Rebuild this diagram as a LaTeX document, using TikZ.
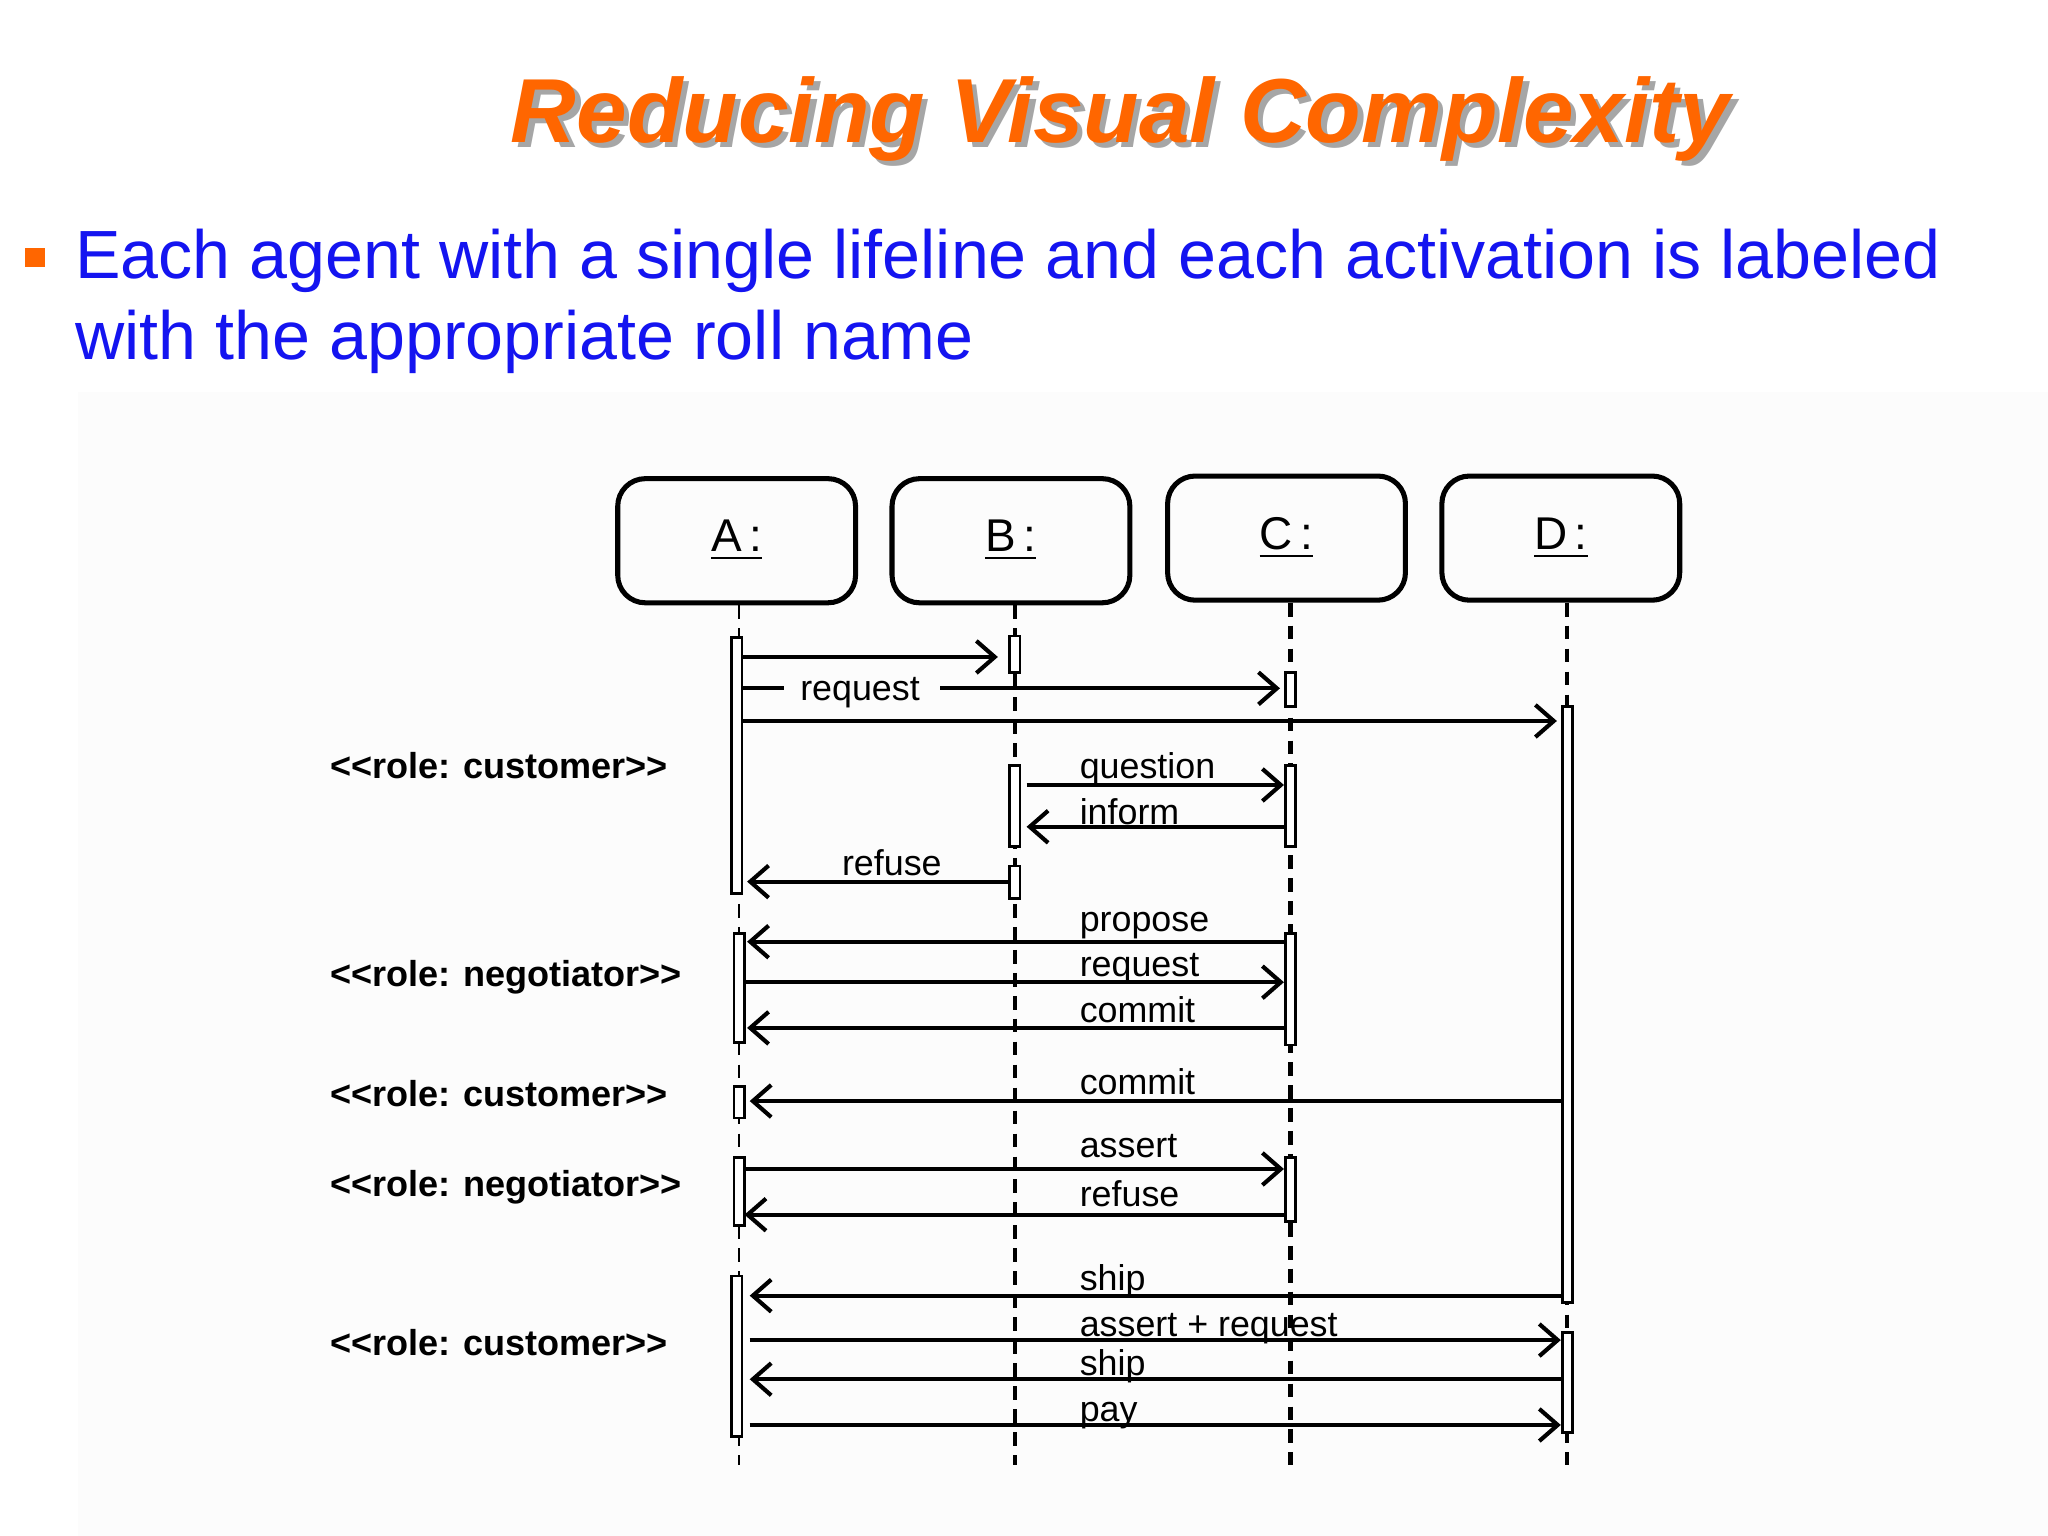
\documentclass[tikz,border=0pt]{standalone}
\usepackage{fontspec}
\setmainfont{Liberation Sans}
\usetikzlibrary{arrows.meta}
\definecolor{ttl}{RGB}{255,102,0}
\definecolor{bl}{RGB}{20,20,240}
\begin{document}
\begin{tikzpicture}[x=0.01cm,y=-0.01cm,
  agent/.style={draw,line width=1.1pt,rounded corners=6pt,inner sep=0},
  act/.style={draw,fill=white,line width=0.6pt},
  msg/.style={line width=0.9pt,-{Straight Barb[length=4pt,width=7pt,line width=0.9pt]}},
  lbl/.style={font=\fontsize{7.8pt}{8pt}\selectfont,anchor=base west,inner sep=0},
  role/.style={font=\bfseries\fontsize{7.85pt}{8pt}\selectfont,anchor=base west,inner sep=0},
  life/.style={line width=0.9pt,dash pattern=on 3pt off 2pt}]
\useasboundingbox (0,0) rectangle (1568,1176);
\fill[black!1] (60,300) rectangle (1568,1176);
% title
\node[text=black!35,font=\bfseries\itshape\fontsize{19.8pt}{22pt}\selectfont] at (862,95) {Reducing Visual Complexity};
\node (title)[text=ttl,font=\bfseries\itshape\fontsize{19.8pt}{22pt}\selectfont] at (858,91) {Reducing Visual Complexity};
\node (bul)[fill=ttl,inner sep=0,minimum width=0.15cm,minimum height=0.15cm] at (27,197) {};
\node (txt)[anchor=north west,text=bl,align=left,inner sep=0,font=\fontsize{14.85pt}{17.6pt}\selectfont] at (57,175)
 {Each agent with a single lifeline and each activation is labeled\\with the appropriate roll name};
% agents
\foreach \n/\x/\y in {A/564/414,B/774/414,C/985/412,D/1195/412}{
  \node[agent,minimum width=1.82cm,minimum height=0.95cm] (\n) at (\x,\y) {\raisebox{-0.5ex}{\fontsize{10pt}{12pt}\selectfont\underline{\n\,:}}};
}
\draw[line width=0.5pt,dash pattern=on 3pt off 2pt] (A.south -| 566,0) -- (566,1122);
\foreach \n/\x in {B/777,C/988,D/1200}{\draw[life] (\n.south -| \x,0) -- (\x,1122);}
% activations
\foreach \x/\a/\b in {564/488/684,566/715/798,566/832/856,566/886/938,564/977/1100,
  777/487/515,777/586/648,777/663/688,988/515/541,988/586/648,988/715/800,988/886/935,
  1200/541/997,1200/1020/1097}
  {\draw[act] (\x-4,\a) rectangle (\x+4,\b);}
% messages
\draw[msg] (569,503) -- (764,503);
\draw[line width=0.9pt] (569,527) -- (600,527);
\draw[msg] (720,527) -- (980,527);
\node[lbl] at (612,536) {request};
\draw[msg] (569,552) -- (1192,552);
\draw[msg] (786,601) -- (983,601); \node[lbl] at (826,596) {question};
\draw[msg] (984,633) -- (786,633); \node[lbl] at (826,631) {inform};
\draw[msg] (773,675) -- (572,675); \node[lbl] at (644,670) {refuse};
\draw[msg] (984,721) -- (572,721); \node[lbl] at (826,713) {propose};
\draw[msg] (570,752) -- (983,752); \node[lbl] at (826,748) {request};
\draw[msg] (984,787) -- (572,787); \node[lbl] at (826,783) {commit};
\draw[msg] (1196,843) -- (574,843); \node[lbl] at (826,838) {commit};
\draw[msg] (570,895) -- (983,895); \node[lbl] at (826,886) {assert};
\draw[msg] (984,930) -- (570,930); \node[lbl] at (826,924) {refuse};
\draw[msg] (1196,992) -- (574,992); \node[lbl] at (826,988) {ship};
\draw[msg] (574,1026) -- (1195,1026); \node[lbl] at (826,1023) {assert + request};
\draw[msg] (1196,1056) -- (574,1056); \node[lbl] at (826,1053) {ship};
\draw[msg] (574,1091) -- (1195,1091); \node[lbl] at (826,1088) {pay};
% roles
\node[role] (r1) at (252,596) {<{}<role: customer>{}>};
\node[role] (r2) at (252,755) {<{}<role: negotiator>{}>};
\node[role] (r3) at (252,847) {<{}<role: customer>{}>};
\node[role] (r4) at (252,916) {<{}<role: negotiator>{}>};
\node[role] (r5) at (252,1038) {<{}<role: customer>{}>};
\end{tikzpicture}
\end{document}
